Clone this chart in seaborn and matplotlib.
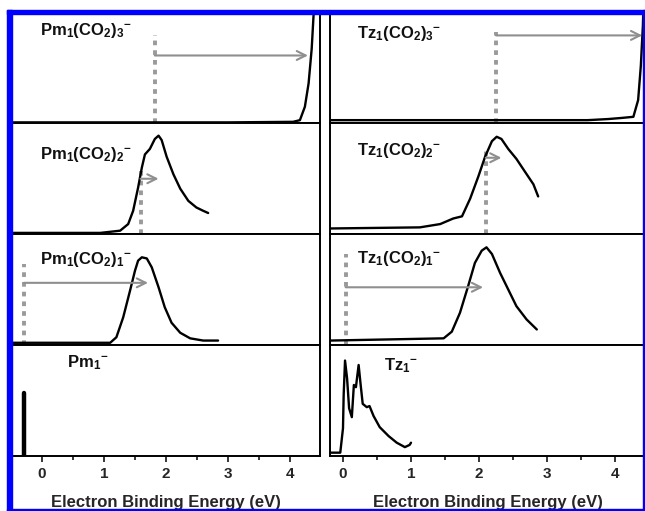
import numpy as np
import pandas as pd
import matplotlib
matplotlib.use("Agg")
import matplotlib.pyplot as plt
from matplotlib.patches import Rectangle
from matplotlib.ticker import MultipleLocator
import seaborn as sns

# ---- data (eV, normalised intensity) ----
pm3_x = [-0.48, 3.0, 4.05, 4.16, 4.24, 4.30, 4.35, 4.38, 4.41]
pm3_y = [0.01, 0.01, 0.015, 0.03, 0.15, 0.36, 0.67, 0.97, 1.1]

pm2_x = [-0.48, 0.94, 1.26, 1.39, 1.47, 1.55, 1.61, 1.66, 1.74, 1.82, 1.88,
         1.93, 2.01, 2.12, 2.23, 2.36, 2.49, 2.60, 2.68]
pm2_y = [0.01, 0.01, 0.03, 0.09, 0.21, 0.42, 0.60, 0.72, 0.77, 0.86, 0.89,
         0.85, 0.70, 0.54, 0.41, 0.30, 0.24, 0.21, 0.19]

pm1_x = [-0.48, 1.10, 1.20, 1.31, 1.42, 1.50, 1.55, 1.61, 1.69, 1.77, 1.88,
         1.98, 2.09, 2.23, 2.39, 2.60, 2.84]
pm1_y = [0.02, 0.02, 0.07, 0.25, 0.49, 0.67, 0.76, 0.79, 0.78, 0.70, 0.52,
         0.34, 0.20, 0.11, 0.06, 0.04, 0.04]

pm0_x = [-0.29, -0.29]
pm0_y = [0.0, 0.57]

tz3_x = [-0.19, 3.6, 3.9, 4.1, 4.27, 4.34, 4.38, 4.41, 4.42]
tz3_y = [0.03, 0.03, 0.04, 0.05, 0.06, 0.21, 0.52, 0.88, 1.1]

tz2_x = [-0.19, 1.13, 1.43, 1.62, 1.75, 1.87, 1.99, 2.09, 2.19, 2.26, 2.33,
         2.43, 2.55, 2.68, 2.80, 2.87]
tz2_y = [0.05, 0.06, 0.09, 0.14, 0.16, 0.32, 0.52, 0.70, 0.84, 0.88, 0.86,
         0.77, 0.68, 0.56, 0.45, 0.34]

tz1_x = [-0.19, 1.48, 1.60, 1.72, 1.84, 1.94, 2.04, 2.11, 2.19, 2.31, 2.43,
         2.55, 2.70, 2.85]
tz1_y = [0.04, 0.06, 0.12, 0.29, 0.53, 0.74, 0.85, 0.88, 0.82, 0.65, 0.50,
         0.35, 0.23, 0.14]

tz0_x = [-0.19, -0.04, 0.00, 0.01, 0.03, 0.06, 0.09, 0.13, 0.16, 0.19, 0.23,
         0.26, 0.29, 0.35, 0.39, 0.45, 0.54, 0.67, 0.79, 0.91, 0.98, 1.00]
tz0_y = [0.03, 0.03, 0.25, 0.55, 0.86, 0.70, 0.43, 0.35, 0.64, 0.62, 0.82,
         0.64, 0.47, 0.44, 0.45, 0.36, 0.26, 0.18, 0.12, 0.08, 0.10, 0.12]

pm_labels = [r"$Pm_1(CO_2)_3{}^{-}$", r"$Pm_1(CO_2)_2{}^{-}$",
             r"$Pm_1(CO_2)_1{}^{-}$", r"$Pm_1{}^{-}$"]
tz_labels = [r"$Tz_1(CO_2)_3{}^{-}$", r"$Tz_1(CO_2)_2{}^{-}$",
             r"$Tz_1(CO_2)_1{}^{-}$", r"$Tz_1{}^{-}$"]

# vertical dotted marker (x, top) and arrow (y, x_start, x_end)
pm_marks = [(1.82, 0.79, 0.61, 4.29), (1.59, 0.57, 0.50, 1.88),
            (-0.29, 0.73, 0.56, 1.71), None]
tz_marks = [(2.25, 0.82, 0.79, 4.40), (2.10, 0.77, 0.69, 2.33),
            (0.04, 0.82, 0.52, 2.06), None]

sns.set_style("white")
plt.rcParams["mathtext.fontset"] = "custom"
plt.rcParams["mathtext.rm"] = "Liberation Sans:bold"
plt.rcParams["mathtext.it"] = "Liberation Sans:bold"
plt.rcParams["mathtext.bf"] = "Liberation Sans:bold"
plt.rcParams["mathtext.default"] = "rm"
plt.rcParams["font.family"] = ["Liberation Sans", "DejaVu Sans"]

W, H = 645, 511
fig = plt.figure(figsize=(W / 100, H / 100), dpi=100)
fig.patch.set_facecolor("white")

rows = [12, 123.5, 234, 345, 456]
cols = [(12, 320, (-0.484, 4.484)), (330, 645, (-0.191, 4.441))]

curves = [[(pm3_x, pm3_y), (pm2_x, pm2_y), (pm1_x, pm1_y), (pm0_x, pm0_y)],
          [(tz3_x, tz3_y), (tz2_x, tz2_y), (tz1_x, tz1_y), (tz0_x, tz0_y)]]
labels = [pm_labels, tz_labels]
marks = [pm_marks, tz_marks]
label_x = [(0.09, 0.18), (0.087, 0.17)]
label_y = [[0.83, 0.72, 0.77, 0.84], [0.81, 0.76, 0.78, 0.81]]

gray = "#8f8f8f"
for c, (x0, x1, xlim) in enumerate(cols):
    for r in range(4):
        top, bot = rows[r], rows[r + 1]
        ax = fig.add_axes([x0 / W, 1 - bot / H, (x1 - x0) / W, (bot - top) / H])
        ax.set_xlim(*xlim)
        ax.set_ylim(0, 1)
        ax.set_yticks([])
        for sp in ax.spines.values():
            sp.set_linewidth(1.4)
            sp.set_color("black")

        cx, cy = curves[c][r]
        df = pd.DataFrame({"eV": cx, "I": cy})
        lw = 3.2 if (c == 0 and r == 3) else 1.7
        sns.lineplot(data=df, x="eV", y="I", ax=ax, color="black",
                     linewidth=lw, sort=False, estimator=None)
        ax.set_xlabel("")
        ax.set_ylabel("")

        m = marks[c][r]
        if m is not None:
            mx, mtop, ay, ax_end = m
            ax.plot([mx, mx], [0, mtop], color="#9a9a9a", linewidth=2.8,
                    dashes=(1.2, 1.3), solid_capstyle="butt", zorder=1)
            ax.annotate("", xy=(ax_end, ay), xytext=(mx, ay),
                        arrowprops=dict(arrowstyle="->", color=gray, lw=1.5,
                                        mutation_scale=16, shrinkA=0, shrinkB=0))

        lx = label_x[c][1] if r == 3 else label_x[c][0]
        ax.text(lx, label_y[c][r], labels[c][r], transform=ax.transAxes,
                fontsize=12, ha="left", va="center", color="#111111")

        if r == 3:
            ax.xaxis.set_major_locator(MultipleLocator(1))
            ax.xaxis.set_minor_locator(MultipleLocator(0.5))
            ax.tick_params(axis="x", which="major", direction="out", length=4,
                           width=1.3, labelsize=11, bottom=True, pad=4)
            ax.tick_params(axis="x", which="minor", direction="out", length=3,
                           width=1.3, bottom=True)
            for t in ax.get_xticklabels():
                t.set_fontweight("bold")
            ax.set_xlabel("Electron Binding Energy (eV)", fontsize=12,
                          fontweight="bold", labelpad=10)
        else:
            ax.set_xticks([])

# blue frame around the figure
blue = "#0000ff"
for (bx, by, bw, bh) in [(7, 10, 638, 4), (7, 10, 5, 501),
                         (643, 10, 2, 501), (7, 509, 638, 2)]:
    fig.patches.append(Rectangle((bx / W, 1 - (by + bh) / H), bw / W, bh / H,
                                 transform=fig.transFigure, color=blue,
                                 zorder=10))

fig.savefig("out.png", dpi=100)
